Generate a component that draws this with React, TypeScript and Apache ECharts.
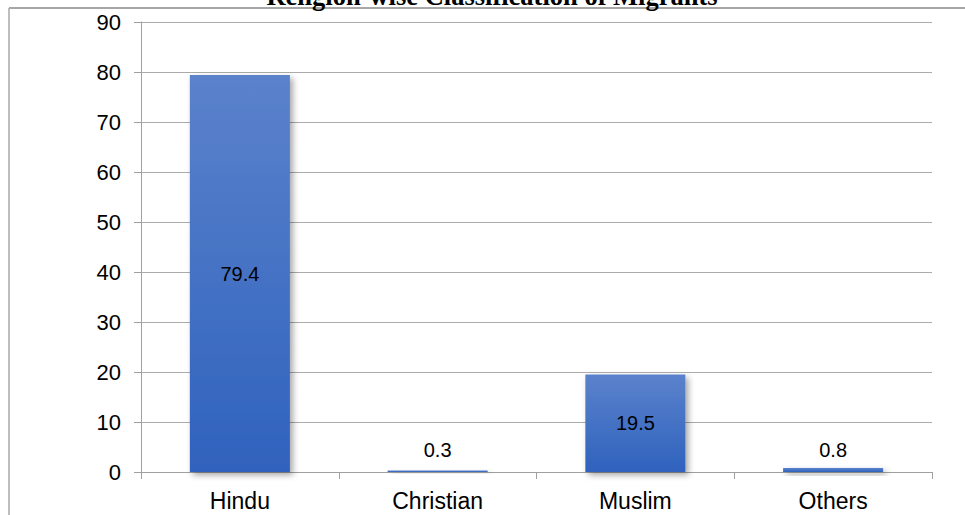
import React, { useEffect, useRef } from "react";
import * as echarts from "echarts";

const categories = ["Hindu", "Christian", "Muslim", "Others"];
const shares = [79.4, 0.3, 19.5, 0.8];
const yTicks = { min: 0, max: 90, interval: 10 };
const titleText = "Religion-wise Classification of Migrants";

// Tall bars carry their value in the middle; thin ones just above the base.
const insideMiddle = [true, false, true, false];

export default function App() {
  const ref = useRef<HTMLDivElement>(null);

  useEffect(() => {
    if (!ref.current) return;
    const chart = echarts.init(ref.current, null, { renderer: "svg" });

    const barFill = new echarts.graphic.LinearGradient(0, 0, 0, 1, [
      { offset: 0, color: "#5b82cc" },
      { offset: 1, color: "#2f62bd" },
    ]);

    chart.setOption({
      animation: false,
      backgroundColor: "#ffffff",
      textStyle: { fontFamily: "Liberation Sans, Arial, sans-serif" },
      grid: { left: 141, right: 33, top: 22, bottom: 43, containLabel: false },
      graphic: [
        {
          type: "line",
          shape: { x1: 9, y1: 8, x2: 965, y2: 8 },
          style: { stroke: "#8a8a8a", lineWidth: 1.5 },
          silent: true,
        },
        {
          type: "line",
          shape: { x1: 9, y1: 8, x2: 9, y2: 515 },
          style: { stroke: "#a8a8a8", lineWidth: 1.5 },
          silent: true,
        },
        {
          type: "text",
          x: 492,
          y: -4,
          style: {
            text: titleText,
            fontFamily: "Liberation Serif, Times New Roman, serif",
            fontWeight: "bold",
            fontSize: 26.5,
            fill: "#000",
            align: "center",
            verticalAlign: "middle",
          },
          silent: true,
        },
      ],
      xAxis: {
        type: "category",
        data: categories,
        boundaryGap: true,
        axisLine: { show: true, lineStyle: { color: "#a0a0a0", width: 1 } },
        axisTick: {
          show: true,
          alignWithLabel: false,
          length: 7,
          lineStyle: { color: "#a0a0a0" },
        },
        axisLabel: {
          color: "#000",
          fontSize: 23,
          margin: 17,
          fontFamily: "Liberation Sans, Arial, sans-serif",
        },
        splitLine: { show: false },
      },
      yAxis: {
        type: "value",
        min: yTicks.min,
        max: yTicks.max,
        interval: yTicks.interval,
        axisLine: { show: true, lineStyle: { color: "#a0a0a0", width: 1 } },
        axisTick: { show: true, length: 7, lineStyle: { color: "#a0a0a0" } },
        axisLabel: {
          color: "#000",
          fontSize: 22,
          margin: 20,
          fontFamily: "Liberation Sans, Arial, sans-serif",
        },
        splitLine: { show: true, lineStyle: { color: "#ababab", width: 1.2 } },
      },
      series: [
        {
          type: "bar",
          barWidth: "50.6%",
          data: shares.map((v, i) => ({
            value: v,
            label: insideMiddle[i]
              ? { position: "inside" }
              : { position: "insideBottom", distance: 12 },
          })),
          itemStyle: {
            color: barFill,
            shadowColor: "rgba(0,0,0,0.35)",
            shadowBlur: 6,
            shadowOffsetX: 3,
            shadowOffsetY: 3,
          },
          label: {
            show: true,
            color: "#000",
            fontSize: 20,
            fontFamily: "Liberation Sans, Arial, sans-serif",
            formatter: (p: any) => String(p.value),
          },
        },
      ],
    });

    return () => chart.dispose();
  }, []);

  return (
    <div
      ref={ref}
      style={{ position: "absolute", left: 0, top: 0, width: 965, height: 515 }}
    />
  );
}
